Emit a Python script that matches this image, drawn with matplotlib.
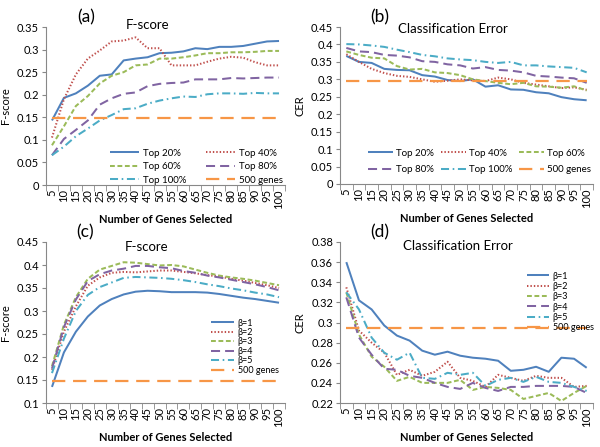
import numpy as np
import matplotlib
matplotlib.use("Agg")
import matplotlib.pyplot as plt

plt.rcParams["font.family"] = ["Lato", "DejaVu Sans"]

# ---------------------------------------------------------------------------
# data
# ---------------------------------------------------------------------------
genes = list(range(5, 105, 5))
gene_labels = [str(g) for g in genes]

# (a) F-score, top-k%
a_top20 = [0.143, 0.193, 0.203, 0.220, 0.242, 0.245, 0.276, 0.280, 0.283, 0.292,
           0.293, 0.296, 0.303, 0.301, 0.306, 0.306, 0.308, 0.313, 0.318, 0.319]
a_top40 = [0.105, 0.190, 0.245, 0.280, 0.298, 0.318, 0.320, 0.327, 0.303, 0.303,
           0.265, 0.265, 0.265, 0.273, 0.280, 0.284, 0.282, 0.272, 0.265, 0.265]
a_top60 = [0.088, 0.130, 0.175, 0.197, 0.225, 0.242, 0.250, 0.265, 0.267, 0.280,
           0.280, 0.283, 0.287, 0.292, 0.292, 0.294, 0.294, 0.295, 0.297, 0.297]
a_top80 = [0.066, 0.102, 0.122, 0.143, 0.178, 0.192, 0.202, 0.205, 0.219, 0.224,
           0.226, 0.227, 0.234, 0.234, 0.234, 0.237, 0.236, 0.237, 0.238, 0.238]
a_top100 = [0.066, 0.085, 0.108, 0.125, 0.143, 0.155, 0.168, 0.170, 0.180, 0.187,
            0.192, 0.196, 0.195, 0.201, 0.203, 0.203, 0.202, 0.204, 0.203, 0.203]
a_500 = 0.148

# (b) classification error, top-k%
b_top20 = [0.367, 0.350, 0.347, 0.330, 0.327, 0.326, 0.312, 0.308, 0.298, 0.295,
           0.300, 0.279, 0.283, 0.271, 0.270, 0.263, 0.260, 0.249, 0.243, 0.240]
b_top40 = [0.372, 0.350, 0.330, 0.318, 0.310, 0.307, 0.300, 0.293, 0.296, 0.300,
           0.297, 0.295, 0.305, 0.300, 0.290, 0.285, 0.280, 0.275, 0.277, 0.270]
b_top60 = [0.380, 0.370, 0.362, 0.360, 0.338, 0.328, 0.330, 0.320, 0.318, 0.312,
           0.300, 0.295, 0.290, 0.286, 0.290, 0.280, 0.279, 0.276, 0.280, 0.268]
b_top80 = [0.390, 0.380, 0.378, 0.370, 0.368, 0.363, 0.352, 0.350, 0.343, 0.340,
           0.331, 0.335, 0.327, 0.325, 0.320, 0.310, 0.308, 0.305, 0.303, 0.290]
b_top100 = [0.401, 0.400, 0.397, 0.393, 0.385, 0.378, 0.370, 0.366, 0.360, 0.357,
            0.355, 0.350, 0.347, 0.350, 0.340, 0.340, 0.337, 0.335, 0.333, 0.320]
b_500 = 0.296

# (c) F-score, beta
c_b1 = [0.135, 0.210, 0.255, 0.288, 0.312, 0.326, 0.336, 0.342, 0.344, 0.343,
        0.341, 0.341, 0.341, 0.340, 0.337, 0.333, 0.329, 0.326, 0.322, 0.318]
c_b2 = [0.172, 0.255, 0.310, 0.355, 0.373, 0.383, 0.385, 0.384, 0.386, 0.388,
        0.388, 0.385, 0.382, 0.378, 0.375, 0.370, 0.366, 0.361, 0.356, 0.350]
c_b3 = [0.180, 0.270, 0.330, 0.370, 0.390, 0.398, 0.406, 0.405, 0.402, 0.399,
        0.400, 0.397, 0.390, 0.383, 0.377, 0.373, 0.370, 0.366, 0.361, 0.356]
c_b4 = [0.175, 0.265, 0.325, 0.365, 0.380, 0.388, 0.392, 0.398, 0.398, 0.395,
        0.393, 0.387, 0.383, 0.377, 0.373, 0.368, 0.363, 0.358, 0.352, 0.345]
c_b5 = [0.165, 0.240, 0.300, 0.335, 0.352, 0.362, 0.372, 0.374, 0.373, 0.372,
        0.370, 0.367, 0.363, 0.358, 0.354, 0.349, 0.345, 0.340, 0.336, 0.330]
c_500 = 0.148

# (d) classification error, beta
d_b1 = [0.360, 0.322, 0.313, 0.297, 0.287, 0.282, 0.272, 0.268, 0.271, 0.267,
        0.265, 0.264, 0.262, 0.252, 0.253, 0.256, 0.251, 0.265, 0.264, 0.255]
d_b2 = [0.335, 0.292, 0.280, 0.270, 0.248, 0.253, 0.247, 0.251, 0.261, 0.245,
        0.242, 0.236, 0.248, 0.245, 0.242, 0.247, 0.245, 0.245, 0.236, 0.237]
d_b3 = [0.330, 0.288, 0.266, 0.256, 0.242, 0.246, 0.240, 0.240, 0.240, 0.243,
        0.233, 0.236, 0.235, 0.233, 0.224, 0.227, 0.230, 0.222, 0.230, 0.237]
d_b4 = [0.325, 0.285, 0.268, 0.254, 0.253, 0.247, 0.245, 0.240, 0.236, 0.234,
        0.240, 0.235, 0.232, 0.236, 0.236, 0.237, 0.237, 0.237, 0.236, 0.230]
d_b5 = [0.330, 0.313, 0.285, 0.270, 0.263, 0.270, 0.245, 0.244, 0.250, 0.248,
        0.250, 0.237, 0.243, 0.245, 0.241, 0.246, 0.241, 0.240, 0.236, 0.232]
d_500 = 0.295

top_labels = ["Top 20%", "Top 40%", "Top 60%", "Top 80%", "Top 100%", "500 genes"]
beta_labels = ["β=1", "β=2", "β=3", "β=4", "β=5", "500 genes"]

# excel-ish styling
colors = ["#4F81BD", "#C0504D", "#9BBB59", "#8064A2", "#4BACC6", "#F79646"]
styles = ["-", (0, (0.7, 1.0)), (0, (2.4, 1.3)), (0, (4.5, 2.5)),
          (0, (4, 1.8, 0.8, 1.8)), (0, (6, 3.5))]
LW = 1.45

W, H = 600.0, 447.0


def draw(ax, series, base, labels, ylim, yticks, title, title_xy, ylabel):
    for s, lab, c, ls in zip(series, labels[:5], colors, styles):
        ax.plot(genes, s, color=c, ls=ls, lw=LW, label=lab,
                dash_capstyle="butt", solid_capstyle="butt")
    ax.plot(genes, [base] * len(genes), color=colors[5], ls=styles[5],
            lw=LW * 1.1, label=labels[5])
    ax.set_xlim(2.5, 102.5)
    ax.set_ylim(*ylim)
    ax.set_yticks(yticks)
    ax.set_yticklabels([("%g" % t) for t in yticks], fontsize=8)
    ax.set_xticks(genes)
    ax.set_xticklabels(gene_labels, rotation=90, fontsize=8)
    ax.set_xticks(np.arange(2.5, 103, 5), minor=True)
    ax.tick_params(axis="x", which="major", length=0, pad=3)
    ax.tick_params(axis="x", which="minor", length=4, color="#888888")
    ax.tick_params(axis="y", length=3, color="#888888", pad=2)
    for sp in ["top", "right"]:
        ax.spines[sp].set_visible(False)
    for sp in ["left", "bottom"]:
        ax.spines[sp].set_color("#888888")
        ax.spines[sp].set_linewidth(0.8)
    fig.text(title_xy[0] / W, 1 - title_xy[1] / H, title, fontsize=9.5,
             ha="center", va="center")
    ax.set_ylabel(ylabel, fontsize=8, labelpad=4)
    ax.set_xlabel("Number of Genes Selected", fontsize=8, fontweight="bold",
                  labelpad=4)


fig = plt.figure(figsize=(6, 4.47), dpi=100)


def rect(l, r, t, b):
    return [l / W, 1 - b / H, (r - l) / W, (b - t) / H]


ax_a = fig.add_axes(rect(46, 285, 27, 185))
ax_b = fig.add_axes(rect(340, 593, 27, 184))
ax_c = fig.add_axes(rect(46, 285, 242, 403))
ax_d = fig.add_axes(rect(340, 593, 242, 403))

draw(ax_a, [a_top20, a_top40, a_top60, a_top80, a_top100], a_500, top_labels,
     (0, 0.35), np.round(np.arange(0, 0.351, 0.05), 2), "F-score", (148, 25), "F-score")
draw(ax_b, [b_top20, b_top40, b_top60, b_top80, b_top100], b_500, top_labels,
     (0, 0.45), np.round(np.arange(0, 0.451, 0.05), 2), "Classification Error",
     (453, 29), "CER")
draw(ax_c, [c_b1, c_b2, c_b3, c_b4, c_b5], c_500, beta_labels,
     (0.1, 0.45), np.round(np.arange(0.1, 0.451, 0.05), 2), "F-score", (147, 247), "F-score")
draw(ax_d, [d_b1, d_b2, d_b3, d_b4, d_b5], d_500, beta_labels,
     (0.22, 0.38), np.round(np.arange(0.22, 0.381, 0.02), 2), "Classification Error",
     (458, 246), "CER")

# legends
h, l = ax_a.get_legend_handles_labels()
order = [0, 2, 4, 1, 3, 5]
ax_a.legend([h[i] for i in order], [l[i] for i in order], ncol=2,
            loc="upper left", bbox_to_anchor=(105 / W, 1 - 144 / H),
            bbox_transform=fig.transFigure, frameon=False, fontsize=7,
            handlelength=3.0, labelspacing=0.45, columnspacing=2.0,
            handletextpad=0.4, borderpad=0)

h, l = ax_b.get_legend_handles_labels()
order = [0, 3, 1, 4, 2, 5]
ax_b.legend([h[i] for i in order], [l[i] for i in order], ncol=3,
            loc="upper left", bbox_to_anchor=(363 / W, 1 - 144 / H),
            bbox_transform=fig.transFigure, frameon=False, fontsize=7,
            handlelength=2.6, labelspacing=0.75, columnspacing=0.7,
            handletextpad=0.3, borderpad=0)

ax_c.legend(loc="upper left", bbox_to_anchor=(206 / W, 1 - 314 / H),
            bbox_transform=fig.transFigure, frameon=False, fontsize=6.5,
            handlelength=2.6, labelspacing=0.05, handletextpad=0.4, borderpad=0)

ax_d.legend(loc="upper left", bbox_to_anchor=(522 / W, 1 - 267 / H),
            bbox_transform=fig.transFigure, frameon=False, fontsize=6.5,
            handlelength=2.5, labelspacing=0.15, handletextpad=0.4, borderpad=0)

# panel letters
fig.text(86 / W, 1 - 17 / H, "(a)", fontsize=12.5, ha="center", va="center")
fig.text(380 / W, 1 - 17 / H, "(b)", fontsize=12.5, ha="center", va="center")
fig.text(85 / W, 1 - 232 / H, "(c)", fontsize=12.5, ha="center", va="center")
fig.text(380 / W, 1 - 232 / H, "(d)", fontsize=12.5, ha="center", va="center")

fig.savefig("out.png", dpi=100)
